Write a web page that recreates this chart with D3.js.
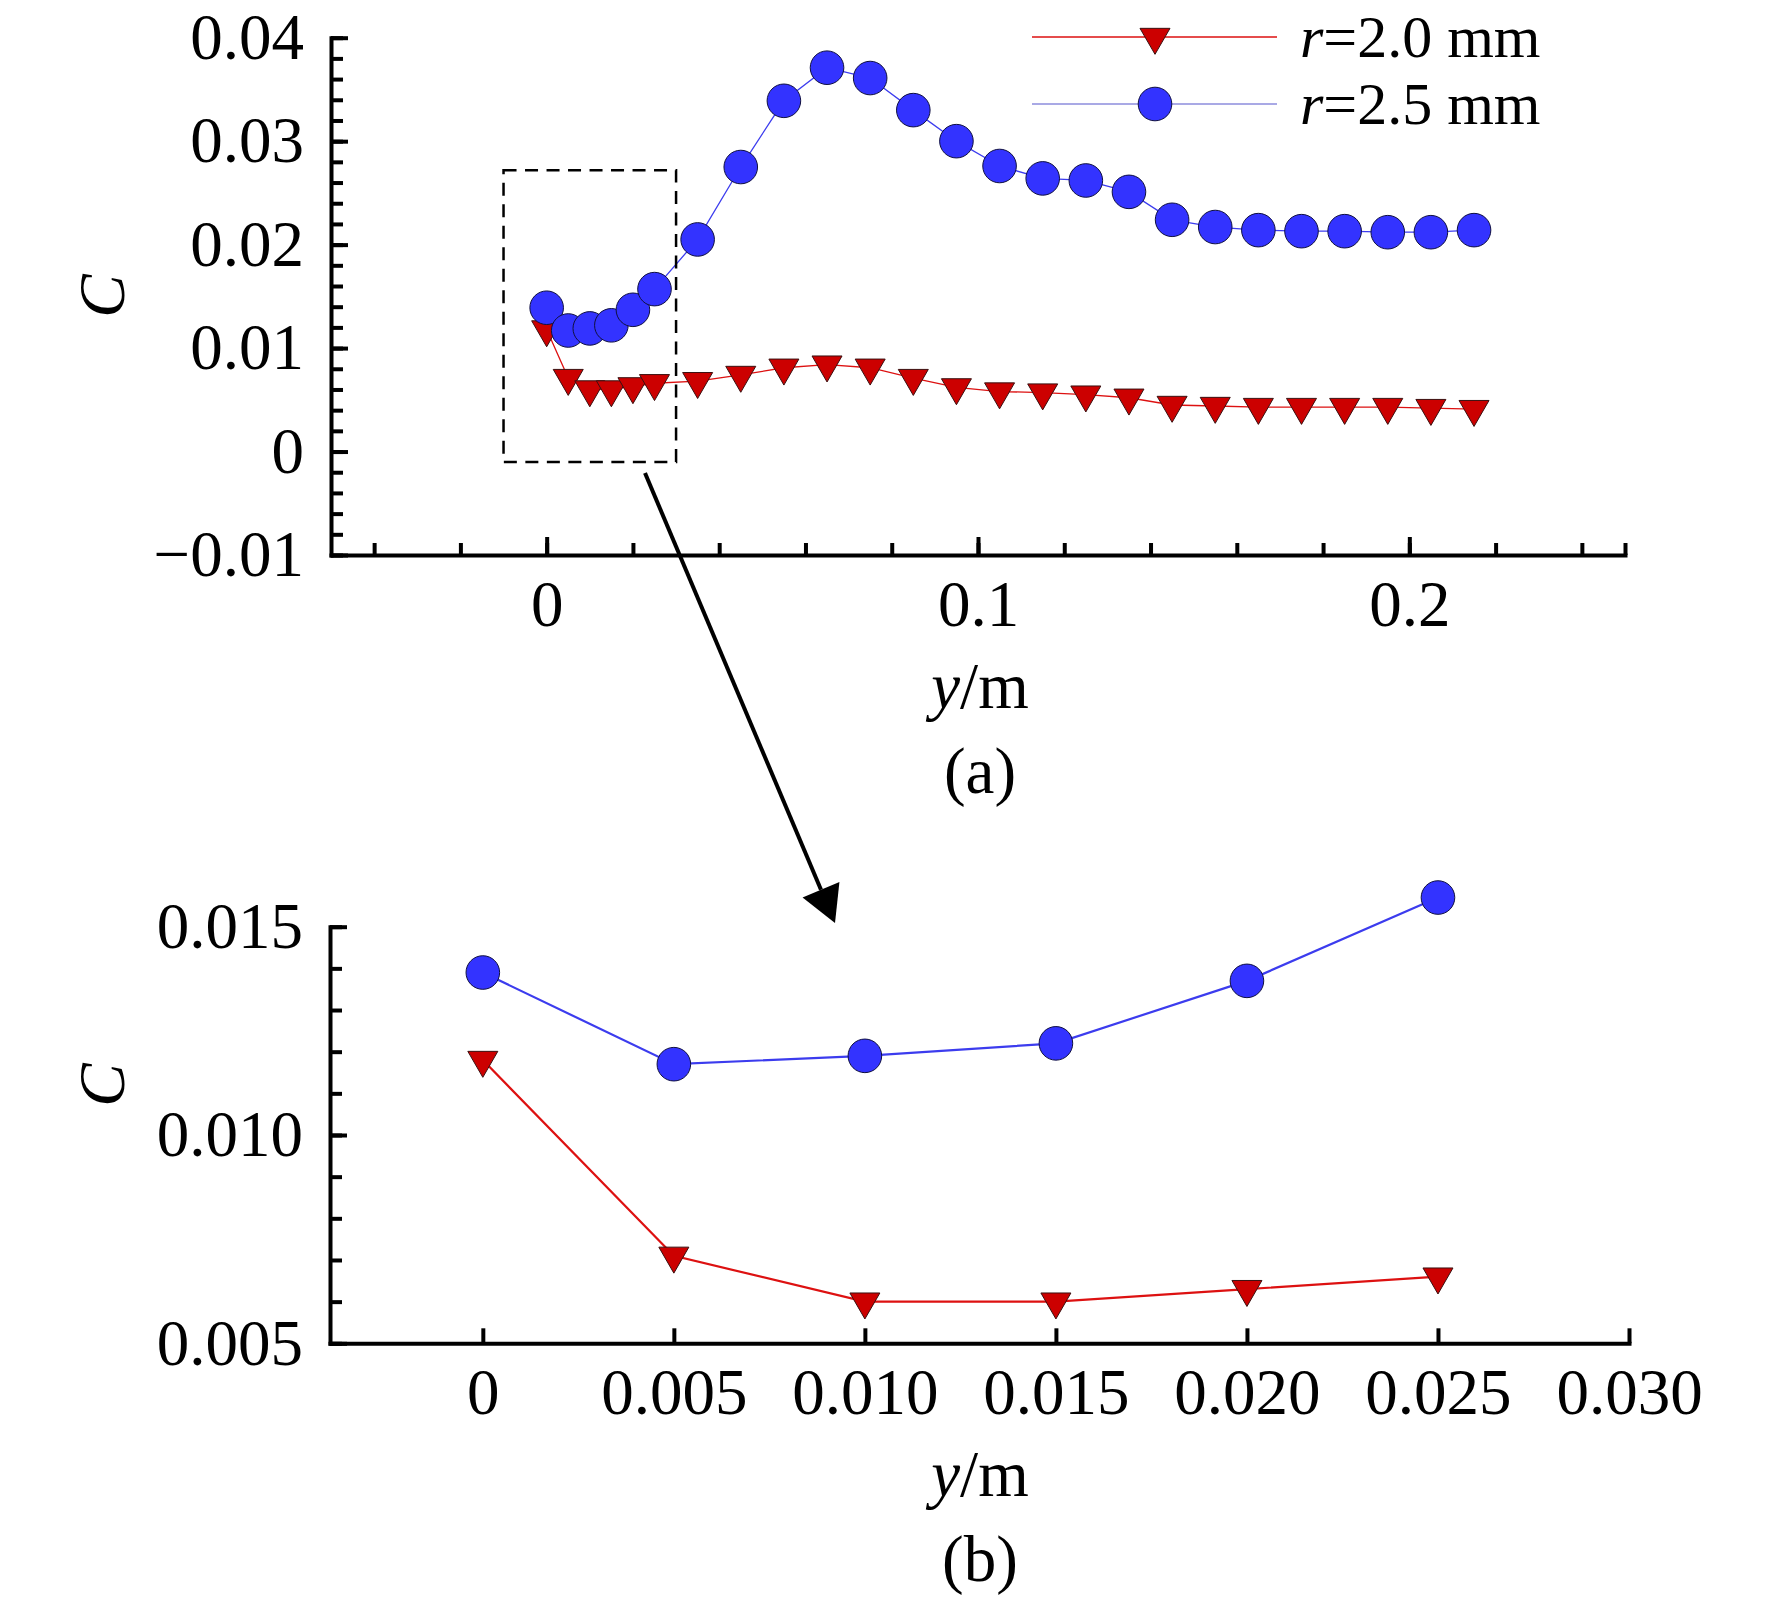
<!DOCTYPE html>
<html>
<head>
<meta charset="UTF-8">
<title>C vs y/m</title>
<script src="https://cdn.jsdelivr.net/npm/d3@7/dist/d3.min.js"></script>
<style>
body { margin: 0; background: #fff; }
svg { display: block; }
</style>
</head>
<body>
<script>
// ---- data ----
var yPos = [0, 0.005, 0.010, 0.015, 0.020, 0.025, 0.035, 0.045, 0.055, 0.065, 0.075, 0.085, 0.095,
            0.105, 0.115, 0.125, 0.135, 0.145, 0.155, 0.165, 0.175, 0.185, 0.195, 0.205, 0.215];
var cR20 = [0.0118, 0.0071, 0.0060, 0.0060, 0.0063, 0.0066, 0.0068, 0.0074, 0.0081, 0.0084, 0.0081, 0.0071, 0.0062,
            0.0058, 0.0057, 0.0055, 0.0052, 0.0045, 0.0044, 0.0043, 0.0043, 0.0043, 0.0043, 0.0042, 0.0041];
var cR25 = [0.0139, 0.0117, 0.0119, 0.0122, 0.0137, 0.0157, 0.0205, 0.0275, 0.0339, 0.0371, 0.0361, 0.0330, 0.0300,
            0.0276, 0.0264, 0.0262, 0.0251, 0.0224, 0.0217, 0.0214, 0.0213, 0.0213, 0.0212, 0.0212, 0.0214];
var legendLabels = ["2.0 mm", "2.5 mm"];
var xTicksA = [0, 0.1, 0.2];
var yTicksA = [-0.01, 0, 0.01, 0.02, 0.03, 0.04];
var xTicksB = [0, 0.005, 0.010, 0.015, 0.020, 0.025, 0.030];
var yTicksB = [0.005, 0.010, 0.015];
var zoomCount = 6;          // panel (b) enlarges the first six points
var zoomBox = [-0.01, 0.03, -0.001, 0.0272]; // x0, x1, y0, y1 of the dashed box in panel (a)

var W = 1772, H = 1603;
var FONT = "'Liberation Serif', 'Times New Roman', serif";
var RED = "#cc0000", RED_LINE = "#dd1111";
var BLUE = "#3333ff", BLUE_LINE = "#3c3cee";

var svg = d3.select("body").append("svg")
	.attr("width", W)
	.attr("height", H)
	.attr("font-family", FONT);

// scales
var xA = d3.scaleLinear().domain([-0.05, 0.25]).range([331, 1625]);
var yA = d3.scaleLinear().domain([-0.01, 0.04]).range([555, 37.7]);
var xB = d3.scaleLinear().domain([-0.004, 0.03]).range([330, 1629]);
var yB = d3.scaleLinear().domain([0.005, 0.015]).range([1343.3, 926.7]);

// axis with inward ticks: minor ticks first, then major ticks + labels + axis line
function addAxis(orient, scale, pos, major, minor, majorLen, minorLen, fmt, pad) {
	var make = orient === "left" ? d3.axisLeft : d3.axisBottom;
	var tr = orient === "left" ? "translate(" + pos + ",0)" : "translate(0," + pos + ")";
	if (minor.length) {
		var gm = svg.append("g")
			.attr("transform", tr)
			.call(make(scale).tickValues(minor).tickSize(-minorLen).tickFormat(""));
		gm.select(".domain").remove();
		gm.selectAll("line").attr("stroke", "#000").attr("stroke-width", 4);
	}
	var g = svg.append("g")
		.attr("transform", tr)
		.call(make(scale).tickValues(major).tickSizeInner(-majorLen).tickSizeOuter(0)
			.tickPadding(pad).tickFormat(fmt));
	g.attr("font-size", 65).attr("font-family", FONT);
	g.selectAll("line").attr("stroke", "#000").attr("stroke-width", 4);
	g.select(".domain").attr("stroke", "#000").attr("stroke-width", 4).attr("stroke-linecap", "square");
	g.selectAll("text").attr("fill", "#000");
}

function fmtZero(f) {
	return function(d) { return d === 0 ? "0" : d3.format(f)(d); };
}

// ---- panel (a) axes ----
var minorYA = d3.range(-0.01, 0.0401, 0.002).map(function(v){ return +v.toFixed(3); });
var minorXA = d3.range(-0.04, 0.2401, 0.02).map(function(v){ return +v.toFixed(2); }).concat([0.25]);
addAxis("left", yA, 331, yTicksA, minorYA, 17, 12, fmtZero(".2f"), 27);
addAxis("bottom", xA, 555, xTicksA, minorXA, 18, 12, fmtZero(".1f"), 25);

// ---- panel (b) axes ----
var minorYB = d3.range(0.005, 0.0151, 0.001).map(function(v){ return +v.toFixed(3); });
addAxis("left", yB, 330, yTicksB, minorYB, 17, 12, fmtZero(".3f"), 27);
addAxis("bottom", xB, 1343.3, xTicksB, [], 15, 0, fmtZero(".3f"), 25);

// ---- series ----
var tri = d3.symbol().type(d3.symbolTriangle).size(390);
var circR = 16.8;

function drawSeries(xs, ys, sx, sy, lineW) {
	var pts = xs.map(function(x, i){ return [x, ys[i]]; });
	var line = d3.line().x(function(d){ return sx(d[0]); }).y(function(d){ return sy(d[1]); });
	return { pts: pts, line: line, lineW: lineW };
}

function plotPanel(sx, sy, n, lineW) {
	var xs = yPos.slice(0, n);
	var red = drawSeries(xs, cR20.slice(0, n), sx, sy, lineW);
	var blue = drawSeries(xs, cR25.slice(0, n), sx, sy, lineW);

	svg.append("path").datum(red.pts)
		.attr("d", red.line).attr("fill", "none")
		.attr("stroke", RED_LINE).attr("stroke-width", lineW);
	svg.append("g").selectAll("path").data(red.pts).enter().append("path")
		.attr("d", tri)
		.attr("transform", function(d){ return "translate(" + sx(d[0]) + "," + sy(d[1]) + ") rotate(180)"; })
		.attr("fill", RED).attr("stroke", "#3a1010").attr("stroke-width", 1);

	svg.append("path").datum(blue.pts)
		.attr("d", blue.line).attr("fill", "none")
		.attr("stroke", BLUE_LINE).attr("stroke-width", lineW);
	svg.append("g").selectAll("circle").data(blue.pts).enter().append("circle")
		.attr("cx", function(d){ return sx(d[0]); })
		.attr("cy", function(d){ return sy(d[1]); })
		.attr("r", circR)
		.attr("fill", BLUE).attr("stroke", "#101040").attr("stroke-width", 1);
}

plotPanel(xA, yA, yPos.length, 1.3);
plotPanel(xB, yB, zoomCount, 2.2);

// ---- dashed box around the zoomed region ----
svg.append("rect")
	.attr("x", xA(zoomBox[0]))
	.attr("y", yA(zoomBox[3]))
	.attr("width", xA(zoomBox[1]) - xA(zoomBox[0]))
	.attr("height", yA(zoomBox[2]) - yA(zoomBox[3]))
	.attr("fill", "none")
	.attr("stroke", "#000")
	.attr("stroke-width", 2.5)
	.attr("stroke-dasharray", "13,8.5");

// ---- arrow from box to panel (b) ----
var aStart = [645, 473], aTip = [835, 923];
var dx = aTip[0] - aStart[0], dy = aTip[1] - aStart[1];
var len = Math.sqrt(dx * dx + dy * dy);
var ux = dx / len, uy = dy / len;
var headL = 36, headW = 20;
var bx = aTip[0] - headL * ux, by = aTip[1] - headL * uy;
svg.append("line")
	.attr("x1", aStart[0]).attr("y1", aStart[1])
	.attr("x2", bx).attr("y2", by)
	.attr("stroke", "#000").attr("stroke-width", 4);
svg.append("path")
	.attr("d", "M" + aTip[0] + "," + aTip[1] +
		"L" + (bx + headW * uy) + "," + (by - headW * ux) +
		"L" + (bx - headW * uy) + "," + (by + headW * ux) + "Z")
	.attr("fill", "#000");

// ---- legend ----
var legY = [37, 104];
var leg = svg.append("g");
legendLabels.forEach(function(lab, i) {
	var y = legY[i];
	leg.append("line")
		.attr("x1", 1032).attr("x2", 1277).attr("y1", y).attr("y2", y)
		.attr("stroke", i === 0 ? RED_LINE : "#8c8cdc").attr("stroke-width", 1.5);
	if (i === 0) {
		leg.append("path").attr("d", tri)
			.attr("transform", "translate(1155," + y + ") rotate(180)")
			.attr("fill", RED).attr("stroke", "#3a1010").attr("stroke-width", 1);
	} else {
		leg.append("circle").attr("cx", 1155).attr("cy", y).attr("r", circR)
			.attr("fill", BLUE).attr("stroke", "#101040").attr("stroke-width", 1);
	}
	var t = leg.append("text").attr("x", 1300).attr("y", y + 20).attr("font-size", 60);
	t.append("tspan").attr("font-style", "italic").text("r");
	t.append("tspan").text("=" + lab);
});

// ---- axis titles and panel labels ----
function xTitle(y) {
	var t = svg.append("text").attr("x", 980).attr("y", y)
		.attr("text-anchor", "middle").attr("font-size", 65);
	t.append("tspan").attr("font-style", "italic").text("y");
	t.append("tspan").text("/m");
}
function yTitle(cy) {
	svg.append("text")
		.attr("transform", "translate(124," + cy + ") rotate(-90)")
		.attr("text-anchor", "middle")
		.attr("font-size", 65)
		.attr("font-style", "italic")
		.text("C");
}
xTitle(708);
xTitle(1496);
yTitle(296);
yTitle(1085);
svg.append("text").attr("x", 980).attr("y", 793).attr("text-anchor", "middle").attr("font-size", 65).text("(a)");
svg.append("text").attr("x", 980).attr("y", 1581).attr("text-anchor", "middle").attr("font-size", 65).text("(b)");
</script>
</body>
</html>
